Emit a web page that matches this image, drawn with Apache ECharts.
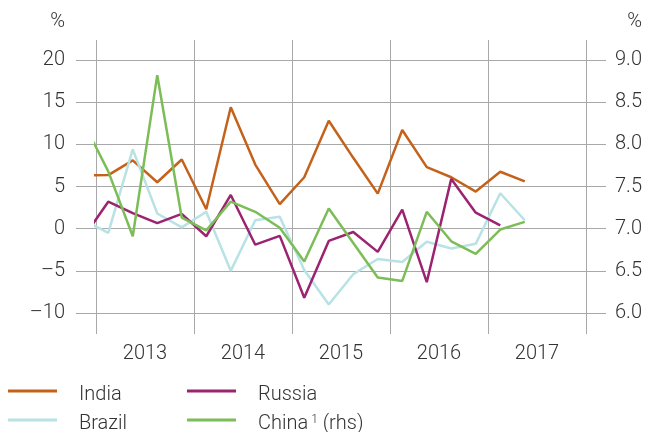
<!DOCTYPE html>
<html>
<head>
<meta charset="utf-8">
<script src="https://cdn.jsdelivr.net/npm/echarts@6/dist/echarts.min.js"></script>
<style>
  html, body { margin: 0; padding: 0; background: #fff; }
  #main { width: 670px; height: 432px; }
</style>
</head>
<body>
<div id="main"></div>
<script>
// quarters, 2012Q4 is drawn but cut off at the 2013 line
var quarters = ['2012Q4',
  '2013Q1', '2013Q2', '2013Q3', '2013Q4',
  '2014Q1', '2014Q2', '2014Q3', '2014Q4',
  '2015Q1', '2015Q2', '2015Q3', '2015Q4',
  '2016Q1', '2016Q2', '2016Q3', '2016Q4',
  '2017Q1', '2017Q2'];
var years = ['2013', '2014', '2015', '2016', '2017'];
var leftTicks = [-10, -5, 0, 5, 10, 15, 20];

var india  = [6.3, 6.35, 8.1, 5.5, 8.2, 2.3, 14.4, 7.6, 2.9, 6.1, 12.8, 8.4, 4.15, 11.7, 7.3, 6.1, 4.4, 6.75, 5.6];
var brazil = [1.0, -0.5, 9.4, 1.8, 0.15, 2.0, -5.0, 1.0, 1.4, -4.9, -9.0, -5.4, -3.6, -3.95, -1.55, -2.35, -1.8, 4.2, 1.0];
var russia = [-1.0, 3.2, 1.85, 0.65, 1.75, -0.9, 4.0, -1.9, -0.85, -8.2, -1.45, -0.4, -2.75, 2.25, -6.35, 5.9, 1.9, 0.4, null];
var china  = [8.25, 7.68, 6.91, 8.82, 7.13, 6.98, 7.32, 7.2, 7.01, 6.61, 7.24, 6.83, 6.42, 6.38, 7.2, 6.85, 6.7, 6.99, 7.08];

function qx(q) {
  return +q.slice(0, 4) + (+q.slice(5) - 0.5) / 4;
}
function pairs(vals) {
  return quarters.map(function (q, i) { return [qx(q), vals[i]]; });
}

var FONT = 'Roboto';
var TXT = '#333';
var GRID = '#a8a8a8';
var C_INDIA = '#c4621b', C_BRAZIL = '#b8e2e4', C_RUSSIA = '#9b2370', C_CHINA = '#7cbd58';

var chart = echarts.init(document.getElementById('main'));
var labelStyle = { fontFamily: FONT, fontWeight: 300, fontSize: 20, color: TXT };

function legendAt(name, left, top) {
  return {
    data: [name], left: left, top: top, padding: 0, itemWidth: 49, itemHeight: 3, icon: 'rect',
    formatter: function (n) { return n === 'China' ? '{t|China}{s|1}{t| (rhs)}' : '{t|' + n + '}'; },
    textStyle: Object.assign({
      padding: [0, 0, 0, 17],
      rich: {
        t: Object.assign({ padding: [8, 0, 0, 0] }, labelStyle),
        s: { fontFamily: FONT, fontSize: 12, fontWeight: 300, color: TXT, padding: [0, 0, 0, 3] }
      }
    }, labelStyle)
  };
}

chart.setOption({
  animation: false,
  textStyle: { fontFamily: FONT },
  grid: [
    { left: 76, right: 64, top: 60, bottom: 119 },
    { left: 96, right: 84, top: 40, bottom: 98 },
    { left: 96, right: 64, top: 60, bottom: 119 }
  ],
  graphic: [
    { type: 'text', right: 605, top: 12, style: { text: '%', font: '300 20px Roboto', fill: TXT } },
    { type: 'text', right: 28, top: 12, style: { text: '%', font: '300 20px Roboto', fill: TXT } }
  ],
  legend: [
    legendAt('India', 8, 385),
    legendAt('Russia', 187, 385),
    legendAt('Brazil', 8, 414),
    legendAt('China', 187, 414)
  ],
  xAxis: [
    { gridIndex: 0, type: 'value', min: 0, max: 1, show: false },
    {
      gridIndex: 1, type: 'category', data: years, boundaryGap: true,
      axisLine: { show: false }, axisTick: { show: false },
      axisLabel: Object.assign({ margin: 10 }, labelStyle),
      splitLine: { show: true, interval: 0, lineStyle: { color: GRID, width: 1 } }
    },
    { gridIndex: 2, type: 'value', min: 2013, max: 2018.204, show: false }
  ],
  yAxis: [
    {
      gridIndex: 0, type: 'value', position: 'left', min: leftTicks[0], max: leftTicks[leftTicks.length - 1], interval: 5,
      axisLine: { show: false }, axisTick: { show: false },
      axisLabel: Object.assign({
        margin: 11,
        formatter: function (v) { return v < 0 ? '\u2013' + Math.abs(v) : '' + v; }
      }, labelStyle),
      splitLine: { show: true, lineStyle: { color: GRID, width: 1 } }
    },
    {
      gridIndex: 0, type: 'value', position: 'right', min: 6, max: 9, interval: 0.5,
      axisLine: { show: false }, axisTick: { show: false },
      axisLabel: Object.assign({
        margin: 9,
        formatter: function (v) { return v.toFixed(1); }
      }, labelStyle),
      splitLine: { show: false }
    },
    { gridIndex: 1, type: 'value', min: 0, max: 1, show: false },
    { gridIndex: 2, type: 'value', min: -10, max: 20, show: false },
    { gridIndex: 2, type: 'value', min: 6, max: 9, show: false, position: 'right' }
  ],
  series: [
    { name: 'India', type: 'line', xAxisIndex: 2, yAxisIndex: 3, data: pairs(india), showSymbol: false, clip: true,
      lineStyle: { color: C_INDIA, width: 2.5 }, itemStyle: { color: C_INDIA } },
    { name: 'Brazil', type: 'line', xAxisIndex: 2, yAxisIndex: 3, data: pairs(brazil), showSymbol: false, clip: true,
      lineStyle: { color: C_BRAZIL, width: 2.5 }, itemStyle: { color: C_BRAZIL } },
    { name: 'Russia', type: 'line', xAxisIndex: 2, yAxisIndex: 3, data: pairs(russia), showSymbol: false, clip: true,
      lineStyle: { color: C_RUSSIA, width: 2.5 }, itemStyle: { color: C_RUSSIA } },
    { name: 'China', type: 'line', xAxisIndex: 2, yAxisIndex: 4, data: pairs(china), showSymbol: false, clip: true,
      lineStyle: { color: C_CHINA, width: 2.5 }, itemStyle: { color: C_CHINA } }
  ]
});
</script>
</body>
</html>
